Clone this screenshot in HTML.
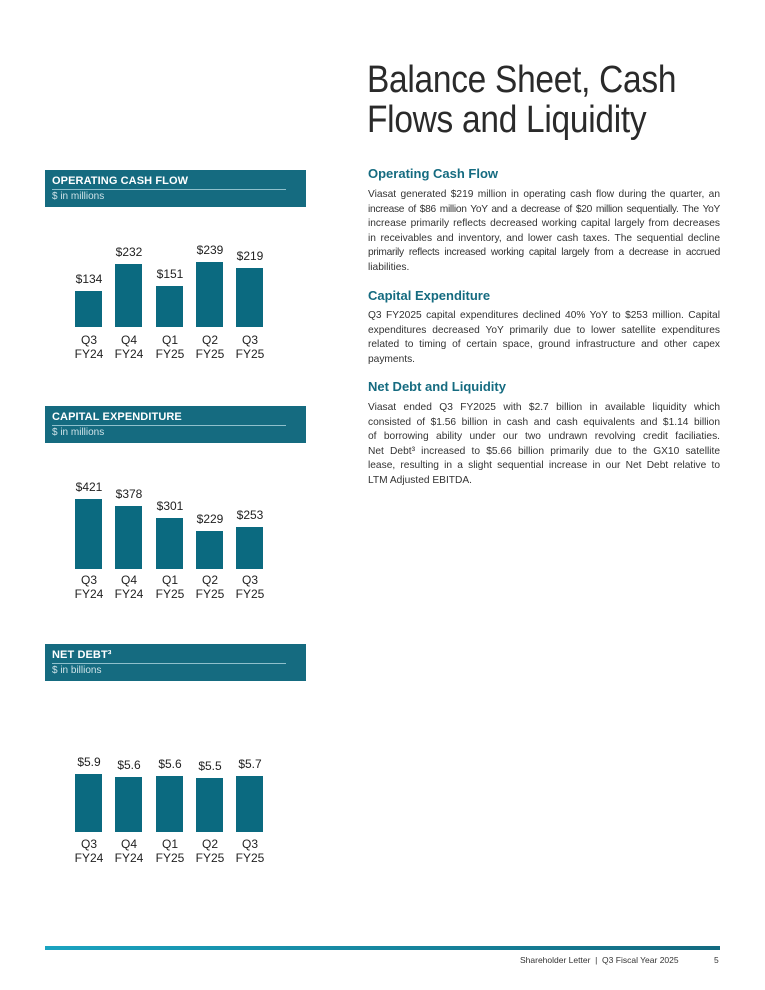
<!DOCTYPE html>
<html><head><meta charset="utf-8"><style>
*{margin:0;padding:0;box-sizing:border-box}
body{width:765px;height:990px;background:#fff;position:relative;overflow:hidden;font-family:"Liberation Sans",sans-serif}
.a{position:absolute}
.box{position:absolute;left:45px;width:261px;height:37px;background:#156b80}
.box .t{position:absolute;left:7px;top:5px;color:#fff;font:bold 11px "Liberation Sans",sans-serif;letter-spacing:0.1px}
.box .r{position:absolute;left:7px;right:20px;top:19px;height:1px;background:#8fc0cc}
.box .s{position:absolute;left:7px;top:21px;color:#cfe3e8;font-size:10px}
.bar{position:absolute;width:27px;background:#0b6a80}
.lb{position:absolute;width:50px;text-align:center;font-size:12px;color:#222}
.xl{position:absolute;width:50px;text-align:center;font-size:12px;color:#222;line-height:14px}
h1{position:absolute;left:367px;top:60px;font:normal 38px/40px "Liberation Sans",sans-serif;color:#2a2a2a;letter-spacing:-0.3px;transform:scaleX(0.88);transform-origin:0 0;white-space:nowrap}
h2{position:absolute;left:368px;font:bold 13px "Liberation Sans",sans-serif;color:#156b80}
.p{position:absolute;left:368px;width:352px;font-size:10.2px;line-height:14.5px;color:#333}
.p div{white-space:nowrap;text-align:justify;text-align-last:justify}
.p div.e{text-align-last:left}
.p div.n{letter-spacing:-0.3px}
</style></head><body>
<h1>Balance Sheet, Cash<br>Flows and Liquidity</h1>

<h2 style="top:166px">Operating Cash Flow</h2>
<div class="p" style="top:188px">
<div>Viasat generated $219 million in operating cash flow during the quarter, an</div>
<div class="n">increase of $86 million YoY and a decrease of $20 million sequentially. The YoY</div>
<div>increase primarily reflects decreased working capital largely from decreases</div>
<div>in receivables and inventory, and lower cash taxes. The sequential decline</div>
<div class="n">primarily reflects increased working capital largely from a decrease in accrued</div>
<div class="e">liabilities.</div>
</div>
<h2 style="top:288px">Capital Expenditure</h2>
<div class="p" style="top:309px">
<div>Q3 FY2025 capital expenditures declined 40% YoY to $253 million. Capital</div>
<div>expenditures decreased YoY primarily due to lower satellite expenditures</div>
<div>related to timing of certain space, ground infrastructure and other capex</div>
<div class="e">payments.</div>
</div>
<h2 style="top:379px">Net Debt and Liquidity</h2>
<div class="p" style="top:401px">
<div>Viasat ended Q3 FY2025 with $2.7 billion in available liquidity which</div>
<div>consisted of $1.56 billion in cash and cash equivalents and $1.14 billion</div>
<div>of borrowing ability under our two undrawn revolving credit faciliaties.</div>
<div>Net Debt³ increased to $5.66 billion primarily due to the GX10 satellite</div>
<div>lease, resulting in a slight sequential increase in our Net Debt relative to</div>
<div class="e">LTM Adjusted EBITDA.</div>
</div>

<div class="box" style="top:170px"><div class="t">OPERATING CASH FLOW</div><div class="r"></div><div class="s">$ in millions</div></div>
<div class="box" style="top:406px"><div class="t">CAPITAL EXPENDITURE</div><div class="r"></div><div class="s">$ in millions</div></div>
<div class="box" style="top:644px"><div class="t">NET DEBT³</div><div class="r"></div><div class="s">$ in billions</div></div>

<div id="charts"></div>
<script>
var xs=[75,115,156,196,236];
var q=[["Q3","FY24"],["Q4","FY24"],["Q1","FY25"],["Q2","FY25"],["Q3","FY25"]];
function chart(bottom,tops,labels,xly){
 var h="";
 for(var i=0;i<5;i++){
  h+='<div class="bar" style="left:'+xs[i]+'px;top:'+tops[i]+'px;height:'+(bottom-tops[i])+'px"></div>';
  h+='<div class="lb" style="left:'+(xs[i]-11)+'px;top:'+(tops[i]-19)+'px">'+labels[i]+'</div>';
  h+='<div class="xl" style="left:'+(xs[i]-11)+'px;top:'+xly+'px">'+q[i][0]+'<br>'+q[i][1]+'</div>';
 }
 return h;
}
document.getElementById("charts").innerHTML=
 chart(327,[291,264,286,262,268],["$134","$232","$151","$239","$219"],333)+
 chart(569,[499,506,518,531,527],["$421","$378","$301","$229","$253"],573)+
 chart(832,[774,777,776,778,776],["$5.9","$5.6","$5.6","$5.5","$5.7"],837);
</script>

<div class="a" style="left:45px;top:946px;width:675px;height:4px;background:linear-gradient(90deg,#1aa3c0,#136a80)"></div>
<div class="a" style="left:520px;top:955px;font-size:8.5px;color:#333">Shareholder Letter &nbsp;|&nbsp; Q3 Fiscal Year 2025</div>
<div class="a" style="left:714px;top:955px;font-size:8.5px;color:#333">5</div>
</body></html>
